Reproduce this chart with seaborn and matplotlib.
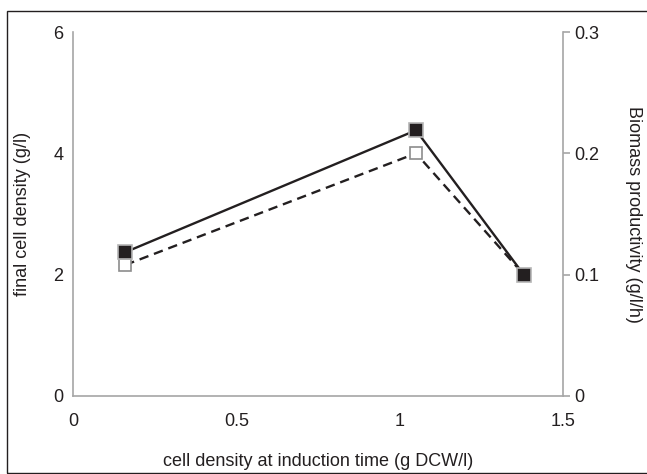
import matplotlib
matplotlib.use("Agg")
import matplotlib.pyplot as plt
import seaborn as sns
from matplotlib.patches import Rectangle

sns.set_style("white")
plt.rcParams['font.family'] = ['Liberation Sans', 'DejaVu Sans']

induction_density = [0.16, 1.05, 1.38]
final_density = [2.37, 4.38, 2.0]
productivity = [0.108, 0.2, 0.1]

x_ticks = [0, 0.5, 1, 1.5]
x_tick_labels = ["0", "0.5", "1", "1.5"]
left_ticks = [0, 2, 4, 6]
right_ticks = [0, 0.1, 0.2, 0.3]
right_tick_labels = ["0", "0.1", "0.2", "0.3"]

fig = plt.figure(figsize=(6.47, 4.74), dpi=100)
ax = fig.add_axes([73/647, 78/474, (563-73)/647, (396-32)/474])
ax2 = ax.twinx()

grey = "#a6a6a6"
fs = 13
tfs = 13

sns.lineplot(x=induction_density, y=productivity, ax=ax2, color="#231f20",
             linestyle=(0, (4, 2.5)), linewidth=1.7, marker="s", markersize=8.5,
             markerfacecolor="white", markeredgecolor="#8c8c8c", markeredgewidth=1.2,
             zorder=2)
sns.lineplot(x=induction_density, y=final_density, ax=ax, color="#231f20",
             linewidth=1.7, marker="s", markersize=10,
             markerfacecolor="#231f20", markeredgecolor="#b5b5b5", markeredgewidth=1.2,
             zorder=3)
ax.set_zorder(ax2.get_zorder() + 1)
ax.patch.set_visible(False)

ax.set_xlim(0, 1.5)
ax.set_ylim(0, 6)
ax2.set_ylim(0, 0.3)
ax.set_xticks(x_ticks)
ax.set_xticklabels(x_tick_labels)
ax.set_yticks(left_ticks)
ax2.set_yticks(right_ticks)
ax2.set_yticklabels(right_tick_labels)

for a in (ax, ax2):
    for s in a.spines.values():
        s.set_visible(False)
ax.spines['left'].set_visible(True)
ax.spines['bottom'].set_visible(True)
ax2.spines['right'].set_visible(True)
for s in (ax.spines['left'], ax.spines['bottom'], ax2.spines['right']):
    s.set_color(grey)
    s.set_linewidth(1.2)

ax.tick_params(axis='y', length=0, labelsize=tfs, colors="#231f20", pad=7)
ax.tick_params(axis='x', length=0, labelsize=tfs, colors="#231f20", pad=12)
ax2.tick_params(axis='y', length=5, width=1.2, color=grey, labelsize=tfs,
                labelcolor="#231f20", pad=3, direction='out')

ax.set_xlabel("cell density at induction time (g DCW/l)", fontsize=fs, color="#231f20")
ax.set_ylabel("final cell density (g/l)", fontsize=fs, color="#231f20")
ax2.set_ylabel("Biomass productivity (g/l/h)", fontsize=fs, color="#231f20",
               rotation=270)
ax.xaxis.set_label_coords(0.5, -0.156)
ax.yaxis.set_label_coords(-0.086, 0.5)
ax2.yaxis.set_label_coords(1.161, 0.5)

fig.patches.append(Rectangle((7/647, 1/474), 1.2, (474-11-1)/474,
                             transform=fig.transFigure, fill=False,
                             edgecolor="#231f20", linewidth=1.0))

fig.savefig("out.png", dpi=100)
